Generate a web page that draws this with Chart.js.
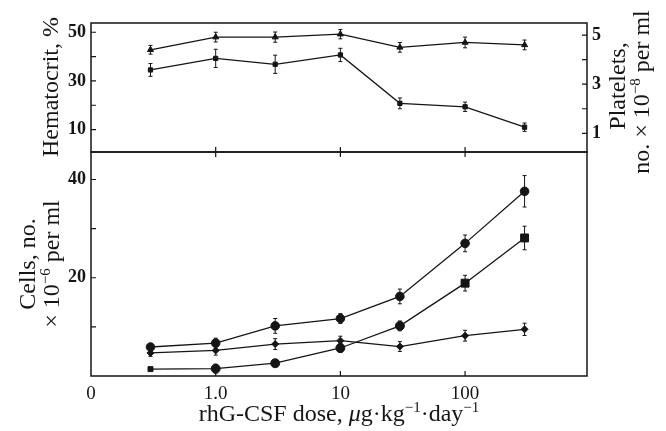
<!DOCTYPE html>
<html><head><meta charset="utf-8">
<script src="https://cdn.jsdelivr.net/npm/chart.js@4.4.0/dist/chart.umd.min.js"></script>
<style>
html,body{margin:0;padding:0;background:#fff;}
#wrap{position:relative;width:666px;height:431px;overflow:hidden;background:#fff;}
#c1{position:absolute;left:0;top:0;z-index:2;}
#c2{position:absolute;left:0;top:150px;z-index:1;}
</style></head><body>
<div id="wrap"><canvas id="c2" width="666" height="281"></canvas><canvas id="c1" width="666" height="431"></canvas></div>
<script>
// ---- data ----
const doses = [0.3, 1, 3, 10, 30, 100, 300];
const hematocrit = [42.8, 48.0, 48.0, 49.2, 43.8, 45.8, 44.8];
const hematocritErr = [1.8, 2.0, 2.1, 1.9, 2.0, 2.2, 2.0];
const platelets = [3.58, 4.05, 3.81, 4.19, 2.22, 2.08, 1.25];
const plateletsErr = [0.26, 0.37, 0.37, 0.27, 0.22, 0.19, 0.17];
const cellsA = [5.9, 6.7, 10.2, 11.7, 16.2, 27.0, 37.6];
const cellsAErr = [0.7, 1.0, 1.5, 1.0, 1.5, 1.7, 3.2];
const cellsB = [1.4, 1.5, 2.6, 5.7, 10.2, 18.9, 28.1];
const cellsBErr = [0.2, 0.9, 0.4, 0.9, 1.0, 1.6, 2.4];
const cellsC = [4.7, 5.2, 6.5, 7.2, 6.0, 8.2, 9.5];
const cellsCErr = [0.7, 0.95, 1.1, 0.9, 1.0, 1.1, 1.25];
const xTicks = [0.1, 1, 10, 100];
const xTickLabels = ['0', '1.0', '10', '100'];
const hctTickLabels = [10, 30, 50];
const hctTickMarks = [10, 20, 30, 40, 50];
const pltTickLabels = [1, 3, 5];
const pltTickMarks = [1, 2, 3, 4, 5];
const cellTickLabels = [20, 40];
const cellTickMarks = [10, 20, 30, 40];

// ---- style ----
const SERIF = '"Liberation Serif", "DejaVu Serif", serif';
const INK = '#151515';
const X_MIN = 0.1, X_MAX = 950;

function pts(ys){ return doses.map((d,i)=>({x:d, y:ys[i]})); }

function richWidth(ctx, segs){ let w=0; for(const s of segs){ ctx.font=s.f; w+=ctx.measureText(s.t).width; } return w; }
function drawRich(ctx, segs, x, y, align){
  const w = richWidth(ctx, segs);
  let cx = align==='center' ? x-w/2 : (align==='right' ? x-w : x);
  ctx.textAlign='left'; ctx.textBaseline='middle'; ctx.fillStyle=INK;
  for(const s of segs){ ctx.font=s.f; ctx.fillText(s.t, cx, y-(s.dy||0)); cx+=ctx.measureText(s.t).width; }
}
const TF = '24px '+SERIF, SF = '15px '+SERIF, TIF = 'italic 24px '+SERIF;

function decorPlugin(cfg){
  return {
    id:'decor',
    beforeDatasetsDraw(chart){
      const ctx=chart.ctx, xs=chart.scales.x;
      ctx.save(); ctx.strokeStyle=INK; ctx.lineWidth=1;
      chart.data.datasets.forEach(ds=>{
        if(!ds.errors) return;
        const ys=chart.scales[ds.yAxisID];
        ds.data.forEach((p,j)=>{
          const e=ds.errors[j]; const px=xs.getPixelForValue(p.x);
          const a=ys.getPixelForValue(p.y+e), b=ys.getPixelForValue(p.y-e);
          ctx.beginPath(); ctx.moveTo(px,a); ctx.lineTo(px,b);
          ctx.moveTo(px-2,a); ctx.lineTo(px+2,a); ctx.moveTo(px-2,b); ctx.lineTo(px+2,b); ctx.stroke();
        });
      });
      ctx.restore();
    },
    afterDraw(chart){
      const ctx=chart.ctx, ca=chart.chartArea, xs=chart.scales.x;
      ctx.save(); ctx.strokeStyle=INK; ctx.lineWidth=1.5;
      ctx.strokeRect(ca.left, ca.top, ca.right-ca.left, ca.bottom-ca.top);
      ctx.lineWidth=1.2; ctx.beginPath();
      [1,10,100].forEach(v=>{ const px=xs.getPixelForValue(v);
        ctx.moveTo(px, ca.bottom); ctx.lineTo(px, ca.bottom-5);
        if(cfg.topTicks){ ctx.moveTo(px, ca.top); ctx.lineTo(px, ca.top+5); } });
      (cfg.left||[]).forEach(([id,vals])=>vals.forEach(v=>{ const py=chart.scales[id].getPixelForValue(v); ctx.moveTo(ca.left,py); ctx.lineTo(ca.left+5,py); }));
      (cfg.right||[]).forEach(([id,vals])=>vals.forEach(v=>{ const py=chart.scales[id].getPixelForValue(v); ctx.moveTo(ca.right,py); ctx.lineTo(ca.right-5,py); }));
      ctx.stroke(); ctx.restore();
      if(cfg.titles) cfg.titles(ctx);
    }
  };
}

function yAxis(pos, min, max, labels, width){
  return { type:'linear', position:pos, min:min, max:max,
    grid:{display:false, drawTicks:false}, border:{display:false},
    afterBuildTicks:s=>{ s.ticks = labels.map(v=>({value:v})); },
    afterFit:s=>{ s.width = width; s.paddingTop = 0; s.paddingBottom = 0; },
    ticks:{ color:INK, font:{family:SERIF, size:18, weight:'bold'}, padding:5 } };
}
function lineDs(ys, errs, axis, style, radius){
  return { data:pts(ys), errors:errs, yAxisID:axis, borderColor:INK, backgroundColor:INK,
    borderWidth:1.3, pointStyle:style, pointRadius:radius, pointBorderWidth:1,
    pointBackgroundColor:INK, pointBorderColor:INK, tension:0, fill:false };
}

// ---- top panel: hematocrit & platelets ----
new Chart(document.getElementById('c1'), {
  type:'line',
  data:{ datasets:[
    lineDs(hematocrit, hematocritErr, 'yH', 'triangle', 3.5),
    lineDs(platelets, plateletsErr, 'yP', 'rect', 3)
  ]},
  options:{ responsive:false, animation:false, devicePixelRatio:1,
    layout:{ autoPadding:false, padding:{ top:23, bottom:279, left:0, right:0 } },
    plugins:{ legend:{display:false}, tooltip:{enabled:false} },
    scales:{
      x:{ type:'logarithmic', min:X_MIN, max:X_MAX, display:false },
      yH: yAxis('left', 0.8, 53.8, hctTickLabels, 91),
      yP: yAxis('right', 0.24, 5.49, pltTickLabels, 79)
    }
  },
  plugins:[ decorPlugin({ topTicks:false, left:[['yH',hctTickMarks]], right:[['yP',pltTickMarks]],
    titles:(ctx)=>{
      ctx.save(); ctx.translate(52, 87); ctx.rotate(-Math.PI/2);
      drawRich(ctx, [{t:'Hematocrit, %', f:TF}], 0, 0, 'center'); ctx.restore();
      ctx.save(); ctx.translate(619, 86); ctx.rotate(-Math.PI/2);
      drawRich(ctx, [{t:'Platelets,', f:TF}], 0, 0, 'center'); ctx.restore();
      ctx.save(); ctx.translate(643, 92); ctx.rotate(-Math.PI/2);
      drawRich(ctx, [{t:'no. \u00d7 10', f:TF},{t:'\u22128', f:SF, dy:7},{t:' per ml', f:TF}], 0, 0, 'center'); ctx.restore();
    } }) ]
});

// ---- bottom panel: cells ----
new Chart(document.getElementById('c2'), {
  type:'line',
  data:{ datasets:[
    lineDs(cellsA, cellsAErr, 'yC', 'circle', 4.3),
    Object.assign(lineDs(cellsB, cellsBErr, 'yC', 'circle', 4.3), {
      pointStyle:['rect','circle','circle','circle','circle','rect','rect'],
      pointRadius:[3.5,4.5,4.5,4.5,4.5,5.6,5.6] }),
    lineDs(cellsC, cellsCErr, 'yC', 'rectRot', 3.5)
  ]},
  options:{ responsive:false, animation:false, devicePixelRatio:1,
    layout:{ autoPadding:false, padding:{ top:2, bottom:0, left:0, right:79 } },
    plugins:{ legend:{display:false}, tooltip:{enabled:false} },
    scales:{
      x:{ type:'logarithmic', min:X_MIN, max:X_MAX, position:'bottom',
        grid:{display:false, drawTicks:false}, border:{display:false},
        afterBuildTicks:s=>{ s.ticks = xTicks.map(v=>({value:v})); },
        afterFit:s=>{ s.height = 55; s.paddingLeft = 0; s.paddingRight = 0; },
        ticks:{ color:INK, font:{family:SERIF, size:19}, padding:7, maxRotation:0, autoSkip:false,
          callback:(v)=>{ const i=xTicks.indexOf(v); return i>=0 ? xTickLabels[i] : ''; } } },
      yC: yAxis('left', 0, 45.6, cellTickLabels, 91)
    }
  },
  plugins:[ decorPlugin({ topTicks:true, left:[['yC',cellTickMarks]],
    titles:(ctx)=>{
      ctx.save(); ctx.translate(29, 114); ctx.rotate(-Math.PI/2);
      drawRich(ctx, [{t:'Cells, no.', f:TF}], 0, 0, 'center'); ctx.restore();
      ctx.save(); ctx.translate(53, 114); ctx.rotate(-Math.PI/2);
      drawRich(ctx, [{t:'\u00d7 10', f:TF},{t:'\u22126', f:SF, dy:7},{t:' per ml', f:TF}], 0, 0, 'center'); ctx.restore();
      drawRich(ctx, [{t:'rhG-CSF dose, ', f:TF},{t:'\u03bc', f:TIF},{t:'g\u00b7kg', f:TF},{t:'\u22121', f:SF, dy:7},{t:'\u00b7day', f:TF},{t:'\u22121', f:SF, dy:7}], 339, 265, 'center');
    } }) ]
});
</script>
</body></html>
